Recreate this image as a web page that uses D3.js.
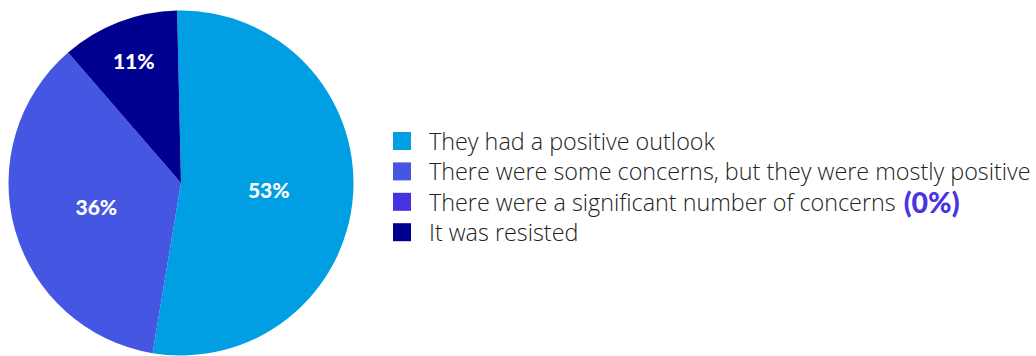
<!DOCTYPE html>
<html>
<head>
<meta charset="utf-8">
<script src="https://cdn.jsdelivr.net/npm/d3@7"></script>
<style>
  html, body { margin: 0; padding: 0; background: #fff; }
  svg { display: block; }
</style>
</head>
<body>
<svg id="chart" width="1036" height="356"></svg>
<script>
// Survey responses: how the change was received
const categories = [
  "They had a positive outlook",
  "There were some concerns, but they were mostly positive",
  "There were a significant number of concerns",
  "It was resisted"
];
const values = [53, 36, 0, 11];
const colors = ["#009fe3", "#4557e2", "#4532e0", "#000090"];

const svg = d3.select("#chart");

const cx = 181, cy = 183, R = 172.5;
const startAngle = -1.3 * Math.PI / 180;

const pie = d3.pie()
  .value(d => d.value)
  .sort(null)
  .startAngle(startAngle)
  .endAngle(startAngle + 2 * Math.PI);

const data = categories.map((c, i) => ({ name: c, value: values[i], color: colors[i] }));
const arcs = pie(data);

const arc = d3.arc().innerRadius(0).outerRadius(R);

const g = svg.append("g").attr("transform", `translate(${cx},${cy})`);

g.selectAll("path.slice")
  .data(arcs)
  .join("path")
  .attr("class", "slice")
  .attr("d", arc)
  .attr("fill", d => d.data.color);

// percentage labels inside slices; small slices sit further out
const fmt = v => `${v}%`;
g.selectAll("text.pct")
  .data(arcs.filter(d => d.data.value > 0))
  .join("text")
  .attr("class", "pct")
  .attr("transform", d => {
    const a = (d.startAngle + d.endAngle) / 2;
    const r = d.data.value < 15 ? R * 0.76 : R * 0.51;
    return `translate(${Math.sin(a) * r},${-Math.cos(a) * r})`;
  })
  .attr("text-anchor", "middle")
  .attr("dominant-baseline", "central")
  .attr("fill", "#fff")
  .attr("font-family", "Lato, 'Open Sans', sans-serif")
  .attr("font-weight", 900)
  .attr("font-size", 21)
  .text(d => fmt(d.data.value));

// legend
const legendX = 393, legendY0 = 141, legendStep = 30.4, sw = 18, textX = 429;
const legend = svg.append("g");
const rows = legend.selectAll("g.row")
  .data(data)
  .join("g")
  .attr("class", "row")
  .attr("transform", (d, i) => `translate(0,${legendY0 + i * legendStep})`);

rows.append("rect")
  .attr("x", legendX)
  .attr("y", -sw / 2)
  .attr("width", sw)
  .attr("height", sw)
  .attr("fill", d => d.color);

const labels = rows.append("text")
  .attr("x", textX)
  .attr("y", 0)
  .attr("dominant-baseline", "central")
  .attr("fill", "#222")
  .attr("font-family", "'Open Sans', Lato, sans-serif")
  .attr("font-weight", 300)
  .attr("font-size", 20)
  .text(d => d.name);

// fit the longest legend line to the available width
const longest = labels.nodes()[1];
const target = 1031 - textX;
const w = longest.getComputedTextLength();
const fs = 20 * target / w;
labels.attr("font-size", fs);

// zero-value entries get their share called out after the name
labels.filter(d => d.value === 0)
  .append("tspan")
  .attr("dx", 8)
  .attr("fill", "#4a35e2")
  .attr("font-family", "Lato, sans-serif")
  .attr("font-weight", 900)
  .attr("font-size", fs * 1.22)
  .text(d => `(${fmt(d.value)})`);
</script>
</body>
</html>
